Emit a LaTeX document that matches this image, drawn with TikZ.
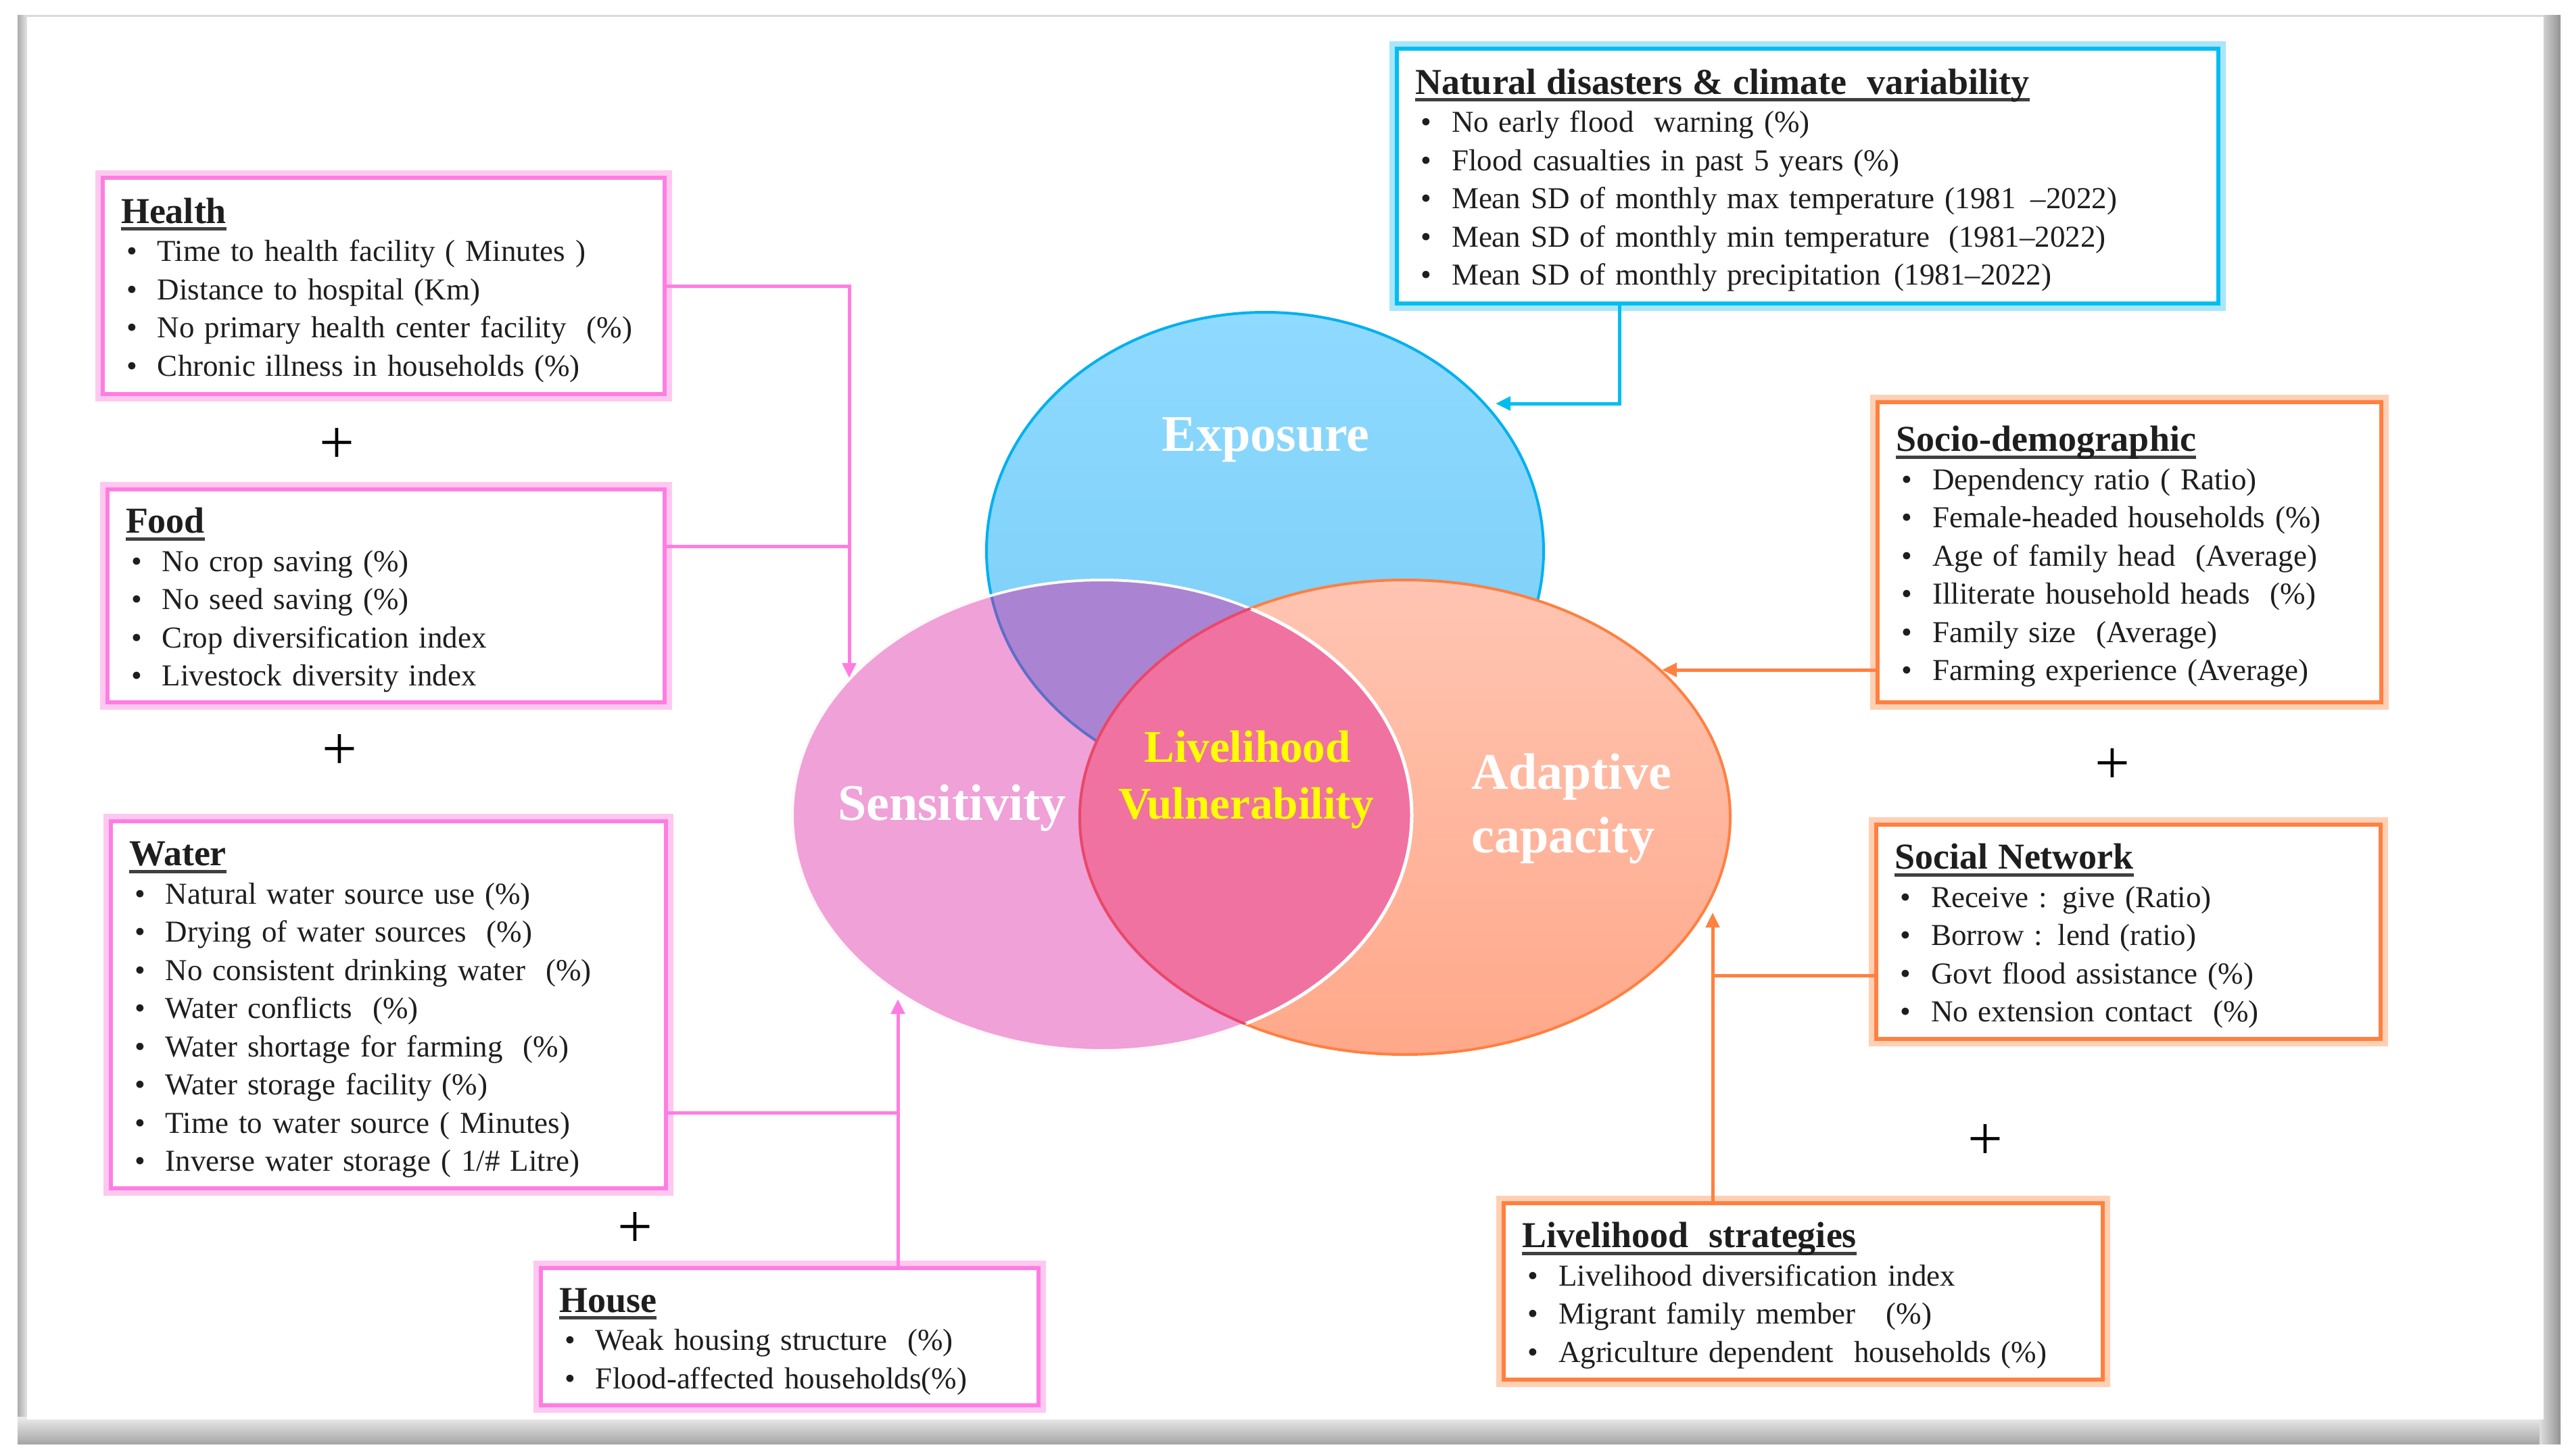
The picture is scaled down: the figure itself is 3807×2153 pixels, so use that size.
\documentclass[tikz,border=0pt]{standalone}
\usepackage{fontspec}
\setmainfont{Liberation Serif}
\usetikzlibrary{arrows.meta}
\definecolor{pk}{RGB}{255,125,225}
\definecolor{pkglow}{RGB}{255,200,240}
\definecolor{org}{RGB}{255,128,64}
\definecolor{orgglow}{RGB}{255,208,180}
\definecolor{cyn}{RGB}{0,190,240}
\definecolor{cynglow}{RGB}{170,230,250}
\definecolor{expoTop}{RGB}{143,218,255}
\definecolor{expoBot}{RGB}{120,204,246}
\definecolor{expoEdge}{RGB}{0,176,240}
\definecolor{expoIn}{RGB}{95,110,200}
\definecolor{sensF}{RGB}{239,161,216}
\definecolor{purp}{RGB}{170,132,210}
\definecolor{adTop}{RGB}{255,197,178}
\definecolor{adBot}{RGB}{255,168,138}
\definecolor{lens}{RGB}{240,114,160}
\definecolor{lensEdge}{RGB}{232,72,108}
\definecolor{vyel}{RGB}{255,255,0}
\definecolor{txt}{RGB}{30,30,30}
\newcommand\bodyfont{\fontsize{45}{56.5}\selectfont}
\newcommand\ulx[1]{\setbox0=\hbox{#1}\rlap{\color{black!75}\rule[-11pt]{\wd0}{5pt}}\box0}
\newcommand\ttl[1]{\rule{0pt}{50pt}{\fontsize{54}{56.5}\selectfont\bfseries\ulx{#1}}}
\newcommand\itm[1]{\hspace*{8pt}\makebox[46pt][l]{\textbullet}#1}
\begin{document}
\begin{tikzpicture}[x=1pt,y=-1pt,
  boxbase/.style={line width=6pt, fill=white, anchor=north west, inner xsep=27pt, inner ysep=0pt, align=left, font=\bodyfont, text=txt},
  pbox/.style={boxbase, draw=pk, preaction={draw=pkglow, line width=22pt}},
  obox/.style={boxbase, draw=org, preaction={draw=orgglow, line width=22pt}},
  cbox/.style={boxbase, draw=cyn, preaction={draw=cynglow, line width=22pt}},
  pkline/.style={draw=pk, line width=5pt},
  orline/.style={draw=org, line width=5pt},
  cyline/.style={draw=cyn, line width=5pt},
  tip/.style={-{Triangle[length=22pt,width=20pt]}},
  plus/.style={font=\fontsize{92}{92}\selectfont, inner sep=0pt, text=black},
  vennw/.style={font=\fontsize{76}{76}\selectfont\bfseries, text=white, anchor=base, inner sep=0pt},
  venny/.style={font=\fontsize{67}{67}\selectfont\bfseries, text=vyel, anchor=base, inner sep=0pt}
]
\useasboundingbox (0,0) rectangle (3807,2153);
\fill[white] (0,0) rectangle (3807,2153);
% frame
\fill[left color=gray!65, right color=gray!15] (26,22) rectangle (42,2110);
\fill[top color=gray!15, bottom color=gray!70] (26,2096) rectangle (3787,2136);
\fill[left color=gray!25, right color=gray!85] (3756,22) rectangle (3787,2136);
\fill[white] (40,25) rectangle (3762,2100);
\draw[gray!30, line width=3pt] (40,23) -- (3762,23);

% Venn diagram
\shade[top color=expoTop, bottom color=expoBot] (1871,815) ellipse [x radius=412pt, y radius=353pt];
\draw[expoEdge, line width=4pt] (1871,815) ellipse [x radius=412pt, y radius=353pt];
\fill[sensF] (1630,1206) ellipse [x radius=458pt, y radius=348pt];
\begin{scope}
  \clip (1630,1206) ellipse [x radius=458pt, y radius=348pt];
  \fill[purp] (1871,815) ellipse [x radius=412pt, y radius=353pt];
  \draw[expoIn, line width=4pt] (1871,815) ellipse [x radius=412pt, y radius=353pt];
\end{scope}
\draw[white!90!pink, line width=4pt] (1630,1206) ellipse [x radius=458pt, y radius=348pt];
\shade[top color=adTop, bottom color=adBot] (2078,1209) ellipse [x radius=481pt, y radius=351pt];
\draw[org, line width=4pt] (2078,1209) ellipse [x radius=481pt, y radius=351pt];
\begin{scope}
  \clip (2078,1209) ellipse [x radius=481pt, y radius=351pt];
  \fill[lens] (1630,1206) ellipse [x radius=458pt, y radius=348pt];
  \draw[white, line width=5pt] (1630,1206) ellipse [x radius=458pt, y radius=348pt];
\end{scope}
\begin{scope}
  \clip (1630,1206) ellipse [x radius=458pt, y radius=348pt];
  \draw[lensEdge, line width=4pt] (2078,1209) ellipse [x radius=481pt, y radius=351pt];
\end{scope}

\node[vennw] (expoT) at (1872,667) {Exposure};
\node[vennw] (sensT) at (1408,1213) {Sensitivity};
\node[vennw] (adT1) at (2324,1167) {Adaptive};
\node[vennw] (adT2) at (2312,1261) {capacity};
\node[venny] (lvT1) at (1845,1127) {Livelihood};
\node[venny] (lvT2) at (1843,1211) {Vulnerability};

% boxes
\node[pbox, text width=777pt, minimum width=831pt, minimum height=320pt] (health) at (149,260) {%
\ttl{Health}\\
\itm{Time to health facility ( Minutes )}\\
\itm{Distance to hospital (Km)}\\
\itm{No primary health center facility \ (\%)}\\
\itm{Chronic illness in households (\%)}};

\node[pbox, text width=770pt, minimum width=824pt, minimum height=315pt] (food) at (156,721) {%
\ttl{Food}\\
\itm{No crop saving (\%)}\\
\itm{No seed saving (\%)}\\
\itm{Crop diversification index}\\
\itm{Livestock diversity index}};

\node[pbox, text width=767pt, minimum width=821pt, minimum height=543pt] (water) at (161,1212) {%
\ttl{Water}\\
\itm{Natural water source use (\%)}\\
\itm{Drying of water sources \ (\%)}\\
\itm{No consistent drinking water \ (\%)}\\
\itm{Water conflicts \ (\%)}\\
\itm{Water shortage for farming \ (\%)}\\
\itm{Water storage facility (\%)}\\
\itm{Time to water source ( Minutes)}\\
\itm{Inverse water storage ( 1/\# Litre)}};

\node[pbox, text width=682pt, minimum width=736pt, minimum height=203pt] (house) at (797,1873) {%
\ttl{House}\\
\itm{Weak housing structure \ (\%)}\\
\itm{Flood-affected households(\%)}};

\node[cbox, text width=1161pt, minimum width=1215pt, minimum height=377pt] (nat) at (2063,69) {%
\ttl{Natural disasters \& climate \ variability}\\
\itm{No early flood \ warning (\%)}\\
\itm{Flood casualties in past 5 years (\%)}\\
\itm{Mean SD of monthly max temperature (1981\hspace{22pt}–2022)}\\
\itm{Mean SD of monthly min temperature\hspace{28pt}(1981–2022)}\\
\itm{Mean SD of monthly precipitation\hspace{20pt}(1981–2022)}};

\node[obox, text width=691pt, minimum width=745pt, minimum height=444pt] (socio) at (2774,592) {%
\ttl{Socio-demographic}\\
\itm{Dependency ratio ( Ratio)}\\
\itm{Female-headed households (\%)}\\
\itm{Age of family head \ (Average)}\\
\itm{Illiterate household heads \ (\%)}\\
\itm{Family size \ (Average)}\\
\itm{Farming experience (Average)}};

\node[obox, text width=692pt, minimum width=746pt, minimum height=317pt] (social) at (2772,1217) {%
\ttl{Social Network}\\
\itm{Receive : give (Ratio)}\\
\itm{Borrow : lend (ratio)}\\
\itm{Govt flood assistance (\%)}\\
\itm{No extension contact \ (\%)}};

\node[obox, text width=832pt, minimum width=886pt, minimum height=261pt] (live) at (2221,1777) {%
\ttl{Livelihood \ strategies}\\
\itm{Livelihood diversification index}\\
\itm{Migrant family member \ \ (\%)}\\
\itm{Agriculture dependent \ households (\%)}};

% plus signs
\node[plus] (p1) at (498,660) {+};
\node[plus] (p2) at (502,1112) {+};
\node[plus] (p3) at (939,1819) {+};
\node[plus] (p4) at (3124,1133) {+};
\node[plus] (p5) at (2936,1689) {+};

% connectors
\coordinate (tipS1) at (1256,1003);
\coordinate (jF) at (1256,808);
\coordinate (jW) at (1328,1646);
\coordinate (tipS2) at (1328,1478);
\coordinate (jN) at (2395,597);
\coordinate (tipE) at (2212,597);
\coordinate (tipA1) at (2458,991);
\coordinate (jSN) at (2533,1443);
\coordinate (tipA2) at (2533,1350);

\draw[pkline, tip] (health.east) -| (tipS1);
\draw[pkline] (food.east |- jF) -- (jF);
\draw[pkline] (water.east |- jW) -- (jW);
\draw[pkline, tip] (house.north -| tipS2) -- (tipS2);
\draw[cyline, tip] (nat.south -| jN) -- (jN) -- (tipE);
\draw[orline, tip] (socio.west |- tipA1) -- (tipA1);
\draw[orline] (social.west |- jSN) -- (jSN);
\draw[orline, tip] (live.north -| tipA2) -- (tipA2);
\end{tikzpicture}
\end{document}
